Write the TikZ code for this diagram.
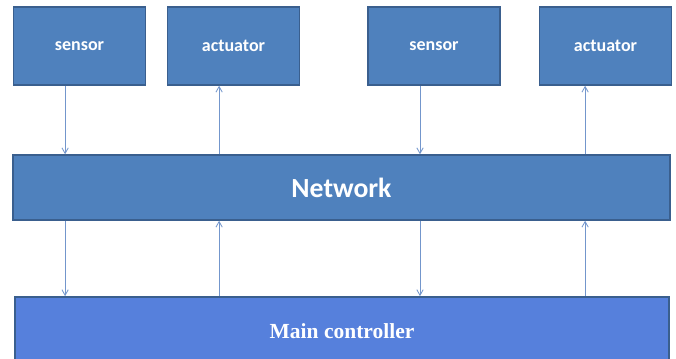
\documentclass[tikz,border=0pt]{standalone}
\usepackage{fontspec}
\setmainfont{Liberation Serif}
\newfontfamily\calib{Carlito}
\usetikzlibrary{arrows.meta}

\definecolor{boxblue}{HTML}{4F81BD}
\definecolor{boxline}{HTML}{3A5F8E}
\definecolor{mainblue}{HTML}{5680DC}
\definecolor{linkblue}{HTML}{7396CC}

\tikzset{
  unit/.style={draw=boxline, line width=1pt, fill=boxblue, text=white,
    font=\calib\bfseries\fontsize{12.8}{14}\selectfont,
    minimum width=3.3cm, minimum height=1.95cm, inner sep=0pt},
  link/.style={draw=linkblue, line width=0.6pt,
    -{Straight Barb[length=4pt,width=4.5pt]}}
}

\begin{document}
\begin{tikzpicture}
  \useasboundingbox (0,0) rectangle (16.9,8.95);

  % field devices
  \node[unit] (s1) at (1.9875,7.8) {sensor};
  \node[unit] (a1) at (5.8375,7.8) {actuator};
  \node[unit] (s2) at (10.85,7.8) {sensor};
  \node[unit] (a2) at (15.1375,7.8) {actuator};

  % network bus
  \node[unit, minimum width=16.425cm, minimum height=1.625cm,
    font=\calib\bfseries\fontsize{19.7}{22}\selectfont] (net) at (8.5375,4.2625) {Network};

  % controller
  \node[draw=boxline, line width=1.2pt, fill=mainblue, text=white,
    minimum width=16.35cm, minimum height=1.7cm, inner sep=0pt,
    font=\bfseries\fontsize{15.3}{17}\selectfont] (mc) at (8.55,0.675) {Main controller};

  % devices <-> network
  \draw[link] ([xshift=-0.36cm]s1.south) -- ([xshift=-0.36cm]s1.south |- net.north);
  \draw[link] ([xshift=-0.36cm]a1.south |- net.north) -- ([xshift=-0.36cm]a1.south);
  \draw[link] ([xshift=-0.35cm]s2.south) -- ([xshift=-0.35cm]s2.south |- net.north);
  \draw[link] ([xshift=-0.51cm]a2.south |- net.north) -- ([xshift=-0.51cm]a2.south);

  % network <-> controller
  \draw[link] ([xshift=-0.36cm]s1.south |- net.south) -- ([xshift=-0.36cm]s1.south |- mc.north);
  \draw[link] ([xshift=-0.36cm]a1.south |- mc.north) -- ([xshift=-0.36cm]a1.south |- net.south);
  \draw[link] ([xshift=-0.35cm]s2.south |- net.south) -- ([xshift=-0.35cm]s2.south |- mc.north);
  \draw[link] ([xshift=-0.51cm]a2.south |- mc.north) -- ([xshift=-0.51cm]a2.south |- net.south);
\end{tikzpicture}
\end{document}
